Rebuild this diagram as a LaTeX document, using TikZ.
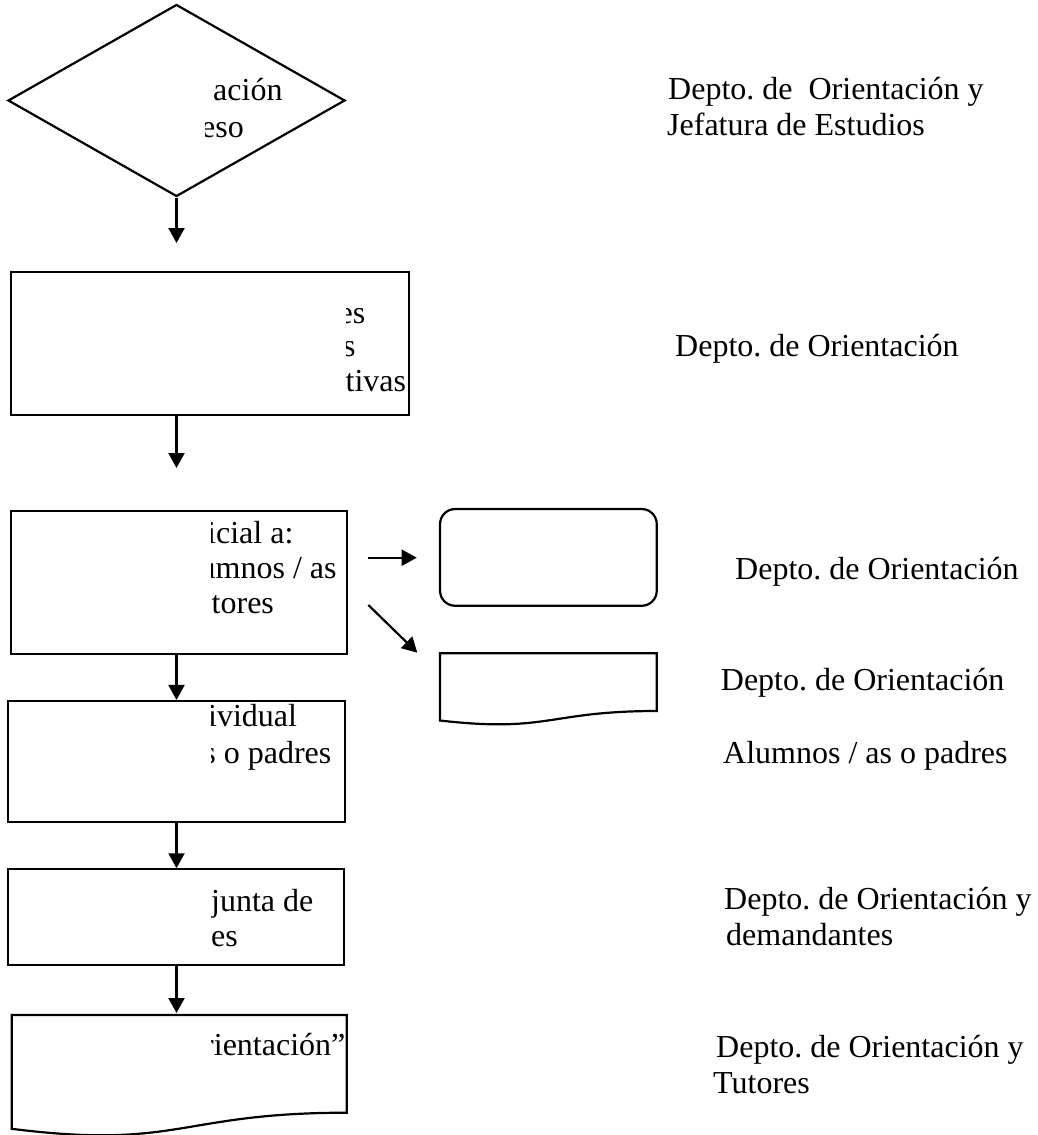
\documentclass[tikz,border=0pt]{standalone}
\usepackage{fontspec}
\setmainfont{Liberation Serif}
\newfontfamily\tnrfont{Liberation Serif}
\usetikzlibrary{arrows.meta,shapes.geometric}
\begin{document}
\frenchspacing
\begin{tikzpicture}[x=1pt,y=-1pt,
  shapeline/.style={draw=black,line width=2.2pt},
  boxnode/.style={shapeline,rectangle,inner sep=0pt},
  flowarrow/.style={line width=2.2pt,-{Triangle[length=15pt,width=16pt]}},
  lbl/.style={anchor=base west,inner sep=0pt,font=\tnrfont\fontsize{32}{36}\selectfont},
  mask/.style={fill=white,draw=none},
]
\useasboundingbox (0,0) rectangle (1037,1135);

% ---- right-hand labels ----
\node[lbl] (l1a) at (668,99) {Depto. de~ Orientación y};
\node[lbl] (l1b) at (667,135) {Jefatura de Estudios};
\node[lbl] (l2) at (675,356.7) {Depto. de Orientación};
\node[lbl] (l3) at (735,579) {Depto. de Orientación};
\node[lbl] (l4) at (720.7,690) {Depto. de Orientación};
\node[lbl] (l5) at (723,763.3) {Alumnos / as o padres};
\node[lbl] (l6a) at (724,909) {Depto. de Orientación y};
\node[lbl] (l6b) at (726,945) {demandantes};
\node[lbl] (l7a) at (716,1057) {Depto. de Orientación y};
\node[lbl] (l7b) at (713,1093) {Tutores};

% ---- partly hidden texts inside shapes ----
\node[lbl] (t1a) at (213,100.7) {ación};
\node[lbl] (t1b) at (201,137.3) {eso};
\node[lbl] (t2a) at (338.5,323.3) {es};
\node[lbl] (t2b) at (343,356.7) {s};
\node[lbl] (t2c) at (345.5,391.7) {tivas};
\node[lbl] (t3a) at (207,543.3) {icial a:};
\node[lbl] (t3b) at (199.5,578.3) {umnos / as};
\node[lbl] (t3c) at (211.5,613.3) {tores};
\node[lbl] (t4a) at (208,726.7) {ividual};
\node[lbl] (t4b) at (203.2,763.3) {s o padres};
\node[lbl] (t5a) at (211,911.7) {junta de};
\node[lbl] (t5b) at (211,946.7) {es};
\node[lbl] (t6a) at (203,1055) {rientación”};
% white cover that hides the left part of those lines
\fill[mask] (197,110) rectangle (205,148);
\fill[mask] (334,295) rectangle (346,365);
\fill[mask] (196,515) rectangle (211,590);
\fill[mask] (198,703.5) rectangle (211,775);
\fill[mask] (200,890) rectangle (211,925);
\fill[mask] (198,1025) rectangle (211,1065);

% ---- shapes ----
\node[shapeline,diamond,minimum width=337pt,minimum height=192pt,inner sep=0pt] (d1) at (176.5,100.5) {};
\node[boxnode,minimum width=398pt,minimum height=143pt] (r2) at (210,343.5) {};
\node[boxnode,minimum width=336pt,minimum height=143.6pt] (r3) at (178.7,582.5) {};
\node[boxnode,minimum width=336.7pt,minimum height=120.7pt] (r4) at (176.7,761.4) {};
\node[boxnode,minimum width=336pt,minimum height=95.7pt] (r5) at (176.3,917.2) {};
\node[boxnode,rounded corners=15pt,minimum width=216.7pt,minimum height=96.7pt] (rr) at (548.4,557.4) {};

% document shapes
\draw[shapeline] (440,653.3) -- (656.7,653.3) -- (656.7,711)
  .. controls (548.35,711) and (548.35,733) .. (440,720.5) -- cycle;
\coordinate (doca) at (440,653.3);
\draw[shapeline] (11.7,1015) -- (346.7,1015) -- (346.7,1112.7)
  .. controls (179.2,1112.7) and (179.2,1149.9) .. (11.7,1128.8) -- cycle;
\coordinate (docb) at (179.2,1015);

% ---- connectors ----
\coordinate (a1end) at (176.5,243);
\coordinate (a2end) at (176.5,468);
\coordinate (a5end) at (176.5,1013);
\coordinate (hs) at (368.3,557.7);
\coordinate (he) at (416.7,557.7);
\coordinate (ds) at (368.3,605);
\coordinate (de) at (417.3,652.7);
\draw[flowarrow] (d1.south) -- (a1end);
\draw[flowarrow] (r2.south -| d1.south) -- (a2end);
\draw[flowarrow] (r3.south -| d1.south) -- (r4.north -| d1.south);
\draw[flowarrow] (r4.south -| d1.south) -- (r5.north -| d1.south);
\draw[flowarrow] (r5.south -| d1.south) -- (a5end);
\draw[flowarrow] (hs) -- (he);
\draw[flowarrow] (ds) -- (de);
\end{tikzpicture}
\end{document}
